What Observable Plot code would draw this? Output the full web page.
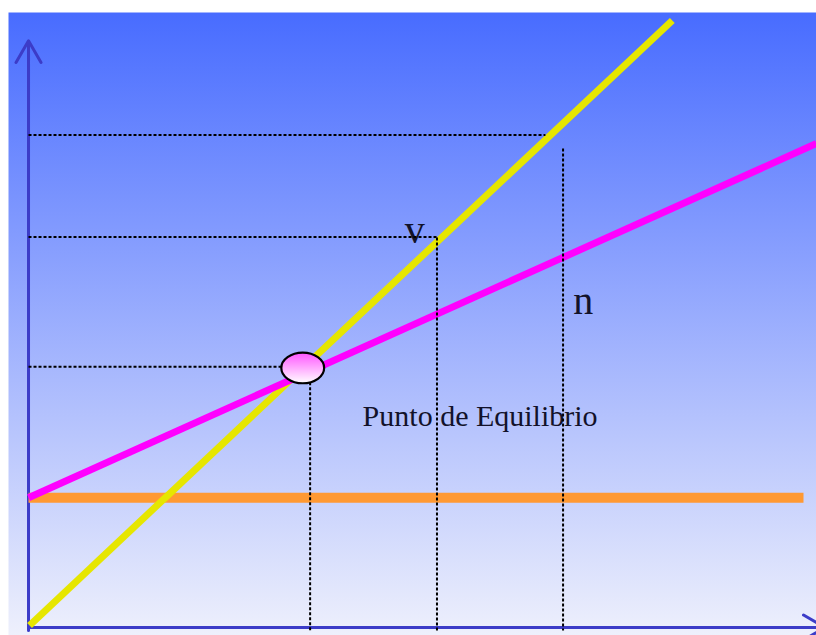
<!DOCTYPE html>
<html>
<head>
<meta charset="utf-8">
<script src="https://cdn.jsdelivr.net/npm/d3@7"></script>
<script src="https://cdn.jsdelivr.net/npm/@observablehq/plot@0.6"></script>
<style>
  html, body { margin: 0; padding: 0; background: #fff; }
  #chart svg { display: block; }
</style>
</head>
<body>
<div id="chart"></div>
<script>
// Abstract units: x 0..100 (quantity), y 0..100 (money)
const xDomain = [-2.54, 100];
const yDomain = [-1.3, 100];

// Cost / revenue lines
const fixedCost   = [{x: 0, y: 21.1}, {x: 98.35, y: 21.1}];     // orange
const totalCost   = [{x: 0, y: 21.1}, {x: 100, y: 78.7}];       // magenta
const revenue     = [{x: 0.13, y: 0.33}, {x: 81.7, y: 98.7}];   // yellow

// Axes
const yAxisLine = [{x1: 0, y1: -0.5, x2: 0, y2: 95.4}];
const xAxisLine = [{x1: 0, y1: 0, x2: 101.1, y2: 0}];

// Dotted reference lines
const hGuides = [
  {x1: 0, x2: 65.6, y: 80.0},
  {x1: 0, x2: 51.9, y: 63.4},
  {x1: 0, x2: 34.8, y: 42.3}
];
const vGuides = [
  {x: 35.8, y1: 42.3, y2: -0.5},
  {x: 51.9, y1: 63.4, y2: -0.5},
  {x: 67.9, y1: 77.9, y2: -0.5}
];

// Equilibrium point
const equilibrium = [{x: 34.8, y: 42.2}];

// Labels
const letterLabels = [
  {x: 49.0, y: 62.6, text: "v"},
  {x: 70.4, y: 50.9, text: "n"}
];
const titleLabel = [{x: 42.4, y: 32.7, text: "Punto de Equilibrio"}];

// Ellipse symbol (width 1.4x height)
const ellipseSymbol = {
  draw(ctx, size) {
    const r = Math.sqrt(size / Math.PI);
    const rx = r * 1.4, ry = r, k = 0.5523;
    ctx.moveTo(rx, 0);
    ctx.bezierCurveTo(rx, ry * k, rx * k, ry, 0, ry);
    ctx.bezierCurveTo(-rx * k, ry, -rx, ry * k, -rx, 0);
    ctx.bezierCurveTo(-rx, -ry * k, -rx * k, -ry, 0, -ry);
    ctx.bezierCurveTo(rx * k, -ry, rx, -ry * k, rx, 0);
    ctx.closePath();
  }
};

const serif = "'Liberation Serif', 'Times New Roman', serif";

const svg = Plot.plot({
  width: 816,
  height: 635,
  marginLeft: 8,
  marginTop: 12,
  marginRight: 0,
  marginBottom: 0,
  x: {domain: xDomain, axis: null},
  y: {domain: yDomain, axis: null},
  style: {background: "#ffffff", overflow: "hidden"},
  marks: [
    Plot.frame({fill: "url(#bgGrad)", stroke: "none"}),
    Plot.arrow(yAxisLine, {x1: "x1", y1: "y1", x2: "x2", y2: "y2", stroke: "#3c3cc8", strokeWidth: 3, headLength: 12.5, headAngle: 60}),
    Plot.arrow(xAxisLine, {x1: "x1", y1: "y1", x2: "x2", y2: "y2", stroke: "#3c3cc8", strokeWidth: 3, headLength: 12.5, headAngle: 60}),
    Plot.line(fixedCost, {x: "x", y: "y", stroke: "#ff9933", strokeWidth: 10, strokeLinecap: "butt"}),
    Plot.line(revenue, {x: "x", y: "y", stroke: "#e6e600", strokeWidth: 7, strokeLinecap: "butt"}),
    Plot.line(totalCost, {x: "x", y: "y", stroke: "#ff00ff", strokeWidth: 7, strokeLinecap: "butt"}),
    Plot.text(titleLabel, {x: "x", y: "y", text: "text", textAnchor: "start", lineAnchor: "bottom", fontSize: 30, fontFamily: serif, fill: "#12122a"}),
    Plot.text(letterLabels, {x: "x", y: "y", text: "text", textAnchor: "middle", lineAnchor: "bottom", fontSize: 40, fontFamily: serif, fill: "#12122a"}),
    Plot.link(hGuides, {x1: "x1", x2: "x2", y1: "y", y2: "y", stroke: "#000", strokeWidth: 2, strokeDasharray: "3,2", dy: -0.5}),
    Plot.link(vGuides, {x1: "x", x2: "x", y1: "y1", y2: "y2", stroke: "#000", strokeWidth: 2, strokeDasharray: "3,2", dx: -0.5}),
    Plot.dot(equilibrium, {x: "x", y: "y", r: 15.3, symbol: ellipseSymbol, fill: "url(#eqGrad)", stroke: "#000", strokeWidth: 2.2})
  ]
});

const defs = d3.select(svg).insert("defs", ":first-child");
const bg = defs.append("linearGradient").attr("id", "bgGrad")
  .attr("x1", 0).attr("y1", 0).attr("x2", 0).attr("y2", 1);
bg.append("stop").attr("offset", "0%").attr("stop-color", "#486cff");
bg.append("stop").attr("offset", "100%").attr("stop-color", "#eef0fc");
const eq = defs.append("linearGradient").attr("id", "eqGrad")
  .attr("x1", 0).attr("y1", 0).attr("x2", 0).attr("y2", 1);
eq.append("stop").attr("offset", "0%").attr("stop-color", "#ff55ff");
eq.append("stop").attr("offset", "100%").attr("stop-color", "#ffffff");

document.getElementById("chart").appendChild(svg);
</script>
</body>
</html>
